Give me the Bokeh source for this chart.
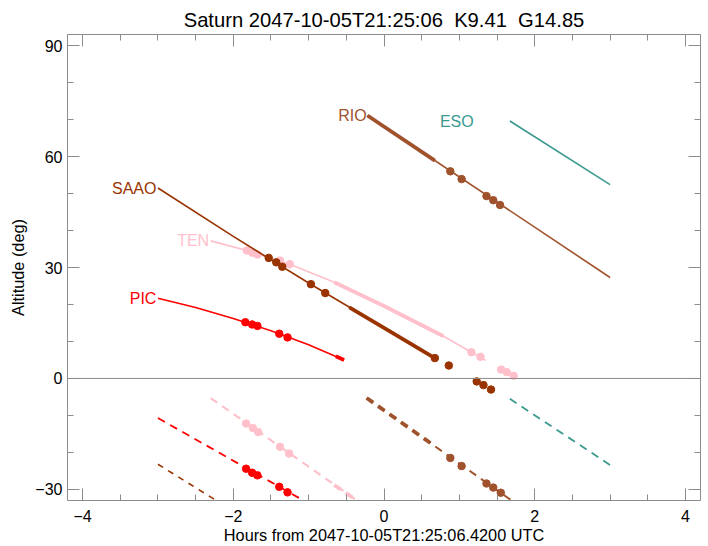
from bokeh.plotting import figure
from bokeh.models import Range1d, LinearAxis, Span, FixedTicker, CustomLabelingPolicy
from bokeh.core.properties import value
from bokeh.embed import file_html
from bokeh.resources import INLINE

FONT = "Liberation Sans"

# ---- data (hours from reference time, altitude deg) ----
colors = {"TEN": "#FFC0CB", "SAAO": "#993300", "PIC": "#FF0000",
          "RIO": "#A0522D", "ESO": "#3A9A90"}

ten_x = [-2.3, -1.82, -1.25, -0.66, 0.0, 0.79, 1.16, 1.35]
ten_y = [37.2, 34.6, 30.9, 26.0, 19.6, 11.4, 7.1, 4.9]
ten_thick_x = [-0.66, 0.0, 0.79]
ten_thick_y = [26.0, 19.6, 11.4]
ten_dot_x = [-1.82, -1.75, -1.68, -1.38, -1.25, 1.16, 1.28, 1.555, 1.63, 1.72]
ten_dot_y = [34.6, 34.0, 33.5, 31.9, 30.9, 7.1, 5.85, 2.4, 1.7, 0.7]
ten_dash_x = [-2.3, -0.19]
ten_dash_y = [-5.3, -35.4]
ten_dash_thick_x = [-0.66, -0.19]
ten_dash_thick_y = [-28.8, -35.4]
ten_dash_dot_x = [-1.83, -1.74, -1.67, -1.38, -1.26]
ten_dash_dot_y = [-12.2, -13.4, -14.5, -18.5, -20.3]

saao_x = [-3.0, -2.0, -1.0, 0.0, 0.675]
saao_y = [51.5, 38.4, 25.8, 13.7, 5.5]
saao_thick_x = [-0.46, 0.0, 0.675]
saao_thick_y = [19.2, 13.7, 5.5]
saao_dot_x = [-1.53, -1.43, -1.35, -0.97, -0.78, 0.675, 0.86, 1.23, 1.32, 1.42]
saao_dot_y = [32.6, 31.4, 30.2, 25.5, 23.1, 5.5, 3.5, -0.8, -1.8, -3.0]
saao_dash_x = [-3.0, -2.1]
saao_dash_y = [-23.2, -34.6]

pic_x = [-3.0, -2.5, -2.0, -1.5, -1.0, -0.53]
pic_y = [21.7, 19.2, 16.2, 12.9, 9.1, 5.0]
pic_thick_x = [-0.64, -0.53]
pic_thick_y = [6.0, 5.0]
pic_dot_x = [-1.84, -1.75, -1.68, -1.39, -1.28]
pic_dot_y = [15.2, 14.6, 14.2, 12.1, 11.1]
pic_dash_x = [-3.0, -0.86]
pic_dash_y = [-10.7, -35.4]
pic_dash_dot_x = [-1.83, -1.75, -1.68, -1.39, -1.28]
pic_dash_dot_y = [-24.4, -25.5, -26.2, -29.3, -30.8]

rio_x = [-0.22, 3.0]
rio_y = [71.1, 27.3]
rio_thick_x = [-0.22, 0.675]
rio_thick_y = [71.1, 58.9]
rio_dot_x = [0.88, 1.03, 1.36, 1.45, 1.54]
rio_dot_y = [56.0, 53.9, 49.3, 48.2, 46.9]
rio_dash_x = [-0.23, 1.86]
rio_dash_y = [-5.3, -35.4]
rio_dash_thick_x = [-0.23, 0.675]
rio_dash_thick_y = [-5.3, -18.3]
rio_dash_dot_x = [0.88, 1.03, 1.36, 1.45, 1.55]
rio_dash_dot_y = [-21.5, -23.7, -28.4, -29.5, -30.9]

eso_x = [1.67, 3.0]
eso_y = [69.6, 52.4]
eso_dash_x = [1.67, 3.0]
eso_dash_y = [-5.5, -23.4]

label_names = ["SAAO", "TEN", "PIC", "RIO", "ESO"]
label_x = [-3.02, -2.32, -3.02, -0.23, 1.19]
label_y = [51.4, 37.2, 21.6, 71.1, 69.5]

x_ticks = [-4, -2, 0, 2, 4]
x_minor = [-4.0, -3.5, -3.0, -2.5, -2.0, -1.5, -1.0, -0.5, 0.0,
           0.5, 1.0, 1.5, 2.0, 2.5, 3.0, 3.5, 4.0]
y_ticks = [-30, 0, 30, 60, 90]
y_minor = [-30, -20, -10, 0, 10, 20, 30, 40, 50, 60, 70, 80, 90]

title = "Saturn 2047-10-05T21:25:06 \u00a0K9.41 \u00a0G14.85"
xlabel = "Hours from 2047-10-05T21:25:06.4200 UTC"
ylabel = "Altitude (deg)"

# ---- figure ----
p = figure(width=708, height=546,
           x_range=Range1d(-4.2, 4.2), y_range=Range1d(-33, 93),
           output_backend="svg", toolbar_location=None,
           min_border_left=67, min_border_right=8,
           min_border_top=34, min_border_bottom=45)
p.outline_line_color = None
p.xgrid.visible = False
p.ygrid.visible = False
p.background_fill_color = "white"
p.border_fill_color = "white"

p.title.text = title
p.title.align = "center"
p.title.text_font = FONT
p.title.text_font_size = "20.2px"
p.title.text_font_style = "normal"
p.title.text_color = "black"
p.title.standoff = 0
p.title.offset = 0

AX = "#8c8c8c"
HIDE = "for (const i of indices) { if (i < 0) { yield i } }"

def style_axis(ax, ticks, minor, labels=True):
    ax.ticker = FixedTicker(ticks=ticks, minor_ticks=minor)
    ax.axis_line_color = AX
    ax.major_tick_line_color = AX
    ax.minor_tick_line_color = AX
    ax.major_tick_in = 12
    ax.major_tick_out = 0
    ax.minor_tick_in = 6
    ax.minor_tick_out = 0
    ax.major_label_text_font = FONT
    ax.major_label_text_color = "black"
    ax.axis_label_text_font = FONT
    ax.axis_label_text_font_style = "normal"
    ax.axis_label_text_color = "black"
    if not labels:
        ax.major_label_policy = CustomLabelingPolicy(code=HIDE)
        ax.major_label_standoff = 0
        ax.axis_label_standoff = 0
        ax.major_label_text_font_size = "1px"

xa = p.xaxis[0]
style_axis(xa, x_ticks, x_minor)
xa.axis_label = xlabel
xa.major_label_text_font_size = "16px"
xa.axis_label_text_font_size = "16.3px"
xa.major_label_standoff = 9
xa.axis_label_standoff = 1

ya = p.yaxis[0]
style_axis(ya, y_ticks, y_minor)
ya.axis_label = ylabel
ya.major_label_text_font_size = "16px"
ya.axis_label_text_font_size = "16.3px"
ya.major_label_standoff = 5
ya.axis_label_standoff = 5
ya.major_label_orientation = "horizontal"

top = LinearAxis()
style_axis(top, x_ticks, x_minor, labels=False)
p.add_layout(top, "above")

right = LinearAxis()
style_axis(right, y_ticks, y_minor, labels=False)
p.add_layout(right, "right")

p.add_layout(Span(location=0, dimension="width", line_color=AX, line_width=1))

THIN = 1.6
THICK = 3.8
DOT = 7.5
DASH = "8 6"

# TEN
c = colors["TEN"]
p.line(ten_x, ten_y, line_color=c, line_width=THIN)
p.line(ten_thick_x, ten_thick_y, line_color=c, line_width=THICK)
p.scatter(ten_dot_x, ten_dot_y, size=DOT, color=c)
p.line(ten_dash_x, ten_dash_y, line_color=c, line_width=2.2, line_dash=DASH)
p.line(ten_dash_thick_x, ten_dash_thick_y, line_color=c, line_width=THICK, line_dash=DASH)
p.scatter(ten_dash_dot_x, ten_dash_dot_y, size=DOT, color=c)

# SAAO
c = colors["SAAO"]
p.line(saao_x, saao_y, line_color=c, line_width=THIN)
p.line(saao_thick_x, saao_thick_y, line_color=c, line_width=THICK)
p.scatter(saao_dot_x, saao_dot_y, size=DOT, color=c)
p.line(saao_dash_x, saao_dash_y, line_color=c, line_width=1.6, line_dash="6 6")

# PIC
c = colors["PIC"]
p.line(pic_x, pic_y, line_color=c, line_width=THIN)
p.line(pic_thick_x, pic_thick_y, line_color=c, line_width=THICK)
p.scatter(pic_dot_x, pic_dot_y, size=DOT, color=c)
p.line(pic_dash_x, pic_dash_y, line_color=c, line_width=1.8, line_dash=DASH)
p.scatter(pic_dash_dot_x, pic_dash_dot_y, size=DOT, color=c)

# RIO
c = colors["RIO"]
p.line(rio_x, rio_y, line_color=c, line_width=THIN)
p.line(rio_thick_x, rio_thick_y, line_color=c, line_width=THICK)
p.scatter(rio_dot_x, rio_dot_y, size=DOT, color=c)
p.line(rio_dash_x, rio_dash_y, line_color=c, line_width=2.0, line_dash=DASH)
p.line(rio_dash_thick_x, rio_dash_thick_y, line_color=c, line_width=THICK, line_dash=DASH)
p.scatter(rio_dash_dot_x, rio_dash_dot_y, size=DOT, color=c)

# ESO
c = colors["ESO"]
p.line(eso_x, eso_y, line_color=c, line_width=THIN)
p.line(eso_dash_x, eso_dash_y, line_color=c, line_width=1.8, line_dash=DASH)

# site labels
p.text(x=label_x, y=label_y, text=label_names,
       text_color=[colors[n] for n in label_names],
       text_font=value(FONT), text_font_size="16px",
       text_align="right", text_baseline="alphabetic")

open("out.html", "w").write(file_html(p, INLINE))
